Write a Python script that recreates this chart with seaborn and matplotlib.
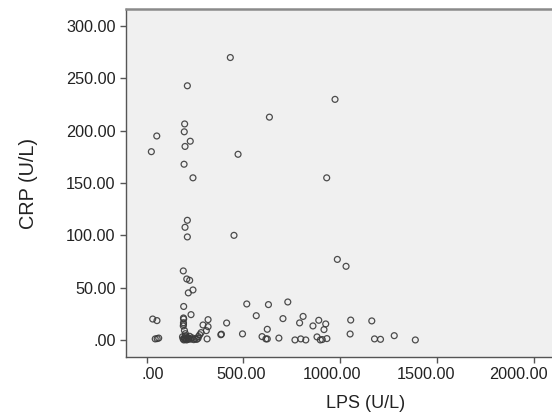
import matplotlib
matplotlib.use("Agg")
import matplotlib.pyplot as plt
import matplotlib.transforms as mtrans
import seaborn as sns
import pandas as pd

lps = [432, 210, 973, 634, 196, 52, 194, 225, 198, 24, 472, 193, 239, 930,
       210, 198, 210, 451, 985, 1030, 189, 207, 222, 239, 215,
       191, 517, 629, 729, 229, 566,
       31, 53, 190, 191, 190, 190, 189,
       317, 291, 317, 413, 704, 808, 790, 859, 889, 925, 916, 1054, 1163,
       623, 308, 281, 274, 267, 386, 383, 495, 596, 616, 623, 683, 766, 796, 822,
       880, 897, 907, 931, 1051, 1177, 1208, 1279, 1388,
       44, 54, 62, 312,
       185, 188, 192, 195, 198, 200, 203, 206, 210, 214, 218, 222, 228, 235,
       243, 250, 258, 265, 200, 195]
crp = [270, 243, 230, 213, 206.5, 195, 199, 190, 185, 180, 177.5, 168, 155, 155,
       114.4, 107.7, 98.5, 100, 77, 70.4, 66, 58.3, 57, 47.8, 45,
       32, 34.4, 33.8, 36.3, 24.2, 23.2,
       20, 18.5, 21, 20, 16.5, 15, 13.4,
       19.4, 14.3, 12.7, 16.2, 20.4, 22.5, 16.3, 13.4, 18.8, 15.3, 9.9, 19, 18.2,
       10.2, 8.9, 7, 5, 3.2, 5.5, 5.0, 5.8, 3.2, 1, 1, 1.8, 0, 1, 0,
       2.9, 0, 0.4, 1.3, 5.7, 1, 0.6, 4.1, 0,
       1, 1.3, 1.8, 1,
       3, 1, 0, 2, 0.5, 4, 1, 0, 2.5, 0.5, 1.5, 3.5, 0.8, 2,
       0.3, 1.2, 0.5, 1.5, 6, 9]

x_ticks = [0, 500, 1000, 1500, 2000]
x_tick_labels = [".00", "500.00", "1000.00", "1500.00", "2000.00"]
y_ticks = [0, 50, 100, 150, 200, 250, 300]
y_tick_labels = [".00", "50.00", "100.00", "150.00", "200.00", "250.00", "300.00"]

df = pd.DataFrame({"LPS": lps, "CRP": crp})

sns.set_style("white")
plt.rcParams["font.family"] = ["Liberation Sans", "DejaVu Sans"]

fig = plt.figure(figsize=(5.52, 4.12), dpi=100)
ax = fig.add_axes([126 / 552, 55 / 412, (605 - 126) / 552, (357 - 9) / 412])
ax.set_facecolor("#f0f0f0")

sns.scatterplot(data=df, x="LPS", y="CRP", ax=ax, marker="o", s=18,
                facecolors="none", edgecolor="#3a3a3a", linewidth=0.9,
                alpha=0.9)

ax.set_xlim(-107, 2368)
ax.set_ylim(-16.3, 316.4)
ax.set_xticks(x_ticks)
ax.set_xticklabels(x_tick_labels)
ax.set_yticks(y_ticks)
ax.set_yticklabels(y_tick_labels)

ax.tick_params(axis="both", direction="out", length=4.5, width=1,
               color="#555555", labelsize=11.7, labelcolor="#222222", pad=3)
ax.tick_params(left=True, bottom=True)

# SPSS-style horizontal nudges of x tick labels (pixels)
x_label_shift_px = [6, -2, -8, -11, -15]
for lab, dx in zip(ax.get_xticklabels(), x_label_shift_px):
    lab.set_transform(lab.get_transform() +
                      mtrans.ScaledTranslation(dx / 100, 0, fig.dpi_scale_trans))

for side in ["left", "bottom"]:
    ax.spines[side].set_color("#555555")
    ax.spines[side].set_linewidth(1)
ax.spines["top"].set_color("#8a8a8a")
ax.spines["top"].set_linewidth(1.8)
ax.spines["right"].set_visible(False)

ax.set_xlabel("LPS (U/L)", fontsize=13, color="#222222", labelpad=9)
ax.set_ylabel("CRP (U/L)", fontsize=14.3, color="#222222", labelpad=20)

fig.savefig("out.png", dpi=100)
